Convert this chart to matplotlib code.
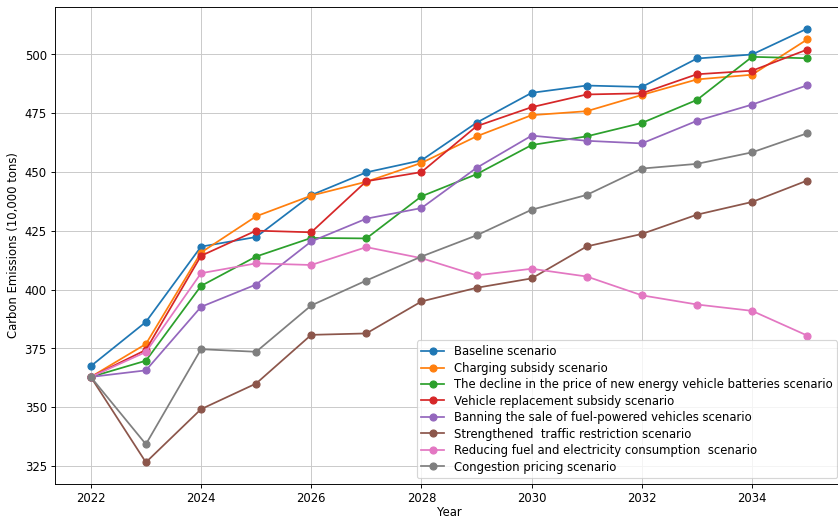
import numpy as np
import matplotlib.pyplot as plt

# --- Scenario data (10,000 tons of CO2) ---
years = list(range(2022, 2036))

baseline = [367.5, 386.3, 418.3, 422.4, 440.2, 449.9, 455.0, 471.0, 483.7, 486.8, 486.2, 498.3, 500.0, 511.0]
charging = [362.9, 376.9, 415.8, 431.2, 440.0, 445.9, 453.9, 465.2, 474.2, 475.9, 482.8, 489.4, 491.4, 506.4]
battery = [362.9, 369.8, 401.6, 414.1, 422.0, 421.8, 439.7, 449.1, 461.5, 465.2, 470.9, 480.7, 499.0, 498.4]
replacement = [362.9, 374.4, 414.4, 425.1, 424.4, 446.1, 450.0, 469.5, 477.6, 483.0, 483.5, 491.6, 493.1, 502.1]
fuel_ban = [362.9, 365.7, 392.7, 402.2, 420.5, 430.2, 434.7, 451.8, 465.5, 463.3, 462.2, 471.8, 478.7, 486.9]
traffic = [362.9, 326.6, 349.2, 360.1, 380.8, 381.4, 395.0, 400.8, 404.8, 418.4, 423.7, 431.9, 437.3, 446.4]
consumption = [362.9, 373.5, 407.0, 411.2, 410.5, 418.1, 413.4, 406.1, 408.9, 405.6, 397.6, 393.7, 391.0, 380.5]
congestion = [362.9, 334.3, 374.7, 373.6, 393.3, 403.9, 414.1, 423.1, 434.0, 440.3, 451.5, 453.5, 458.4, 466.5]

labels = [
    "Baseline scenario",
    "Charging subsidy scenario",
    "The decline in the price of new energy vehicle batteries scenario",
    "Vehicle replacement subsidy scenario",
    "Banning the sale of fuel-powered vehicles scenario",
    "Strengthened  traffic restriction scenario",
    "Reducing fuel and electricity consumption  scenario",
    "Congestion pricing scenario",
]
series = [baseline, charging, battery, replacement, fuel_ban, traffic, consumption, congestion]

# --- Plot ---
fig = plt.figure(figsize=(10, 6.17))
ax = fig.add_axes([0.0656, 0.0638, 0.9404, 0.9227])

for values, label in zip(series, labels):
    ax.plot(years, values, marker="o", label=label)

ax.set_xlabel("Year", labelpad=1)
ax.set_ylabel("Carbon Emissions (10,000 tons)")
ax.set_xticks(range(2022, 2036, 2))
ax.set_yticks(range(325, 501, 25))
ax.grid(True, color="#c8c8c8")
ax.legend(loc="lower right", fontsize=10, labelspacing=0.3)

fig.savefig("out.png", dpi=83.8)
plt.close(fig)
